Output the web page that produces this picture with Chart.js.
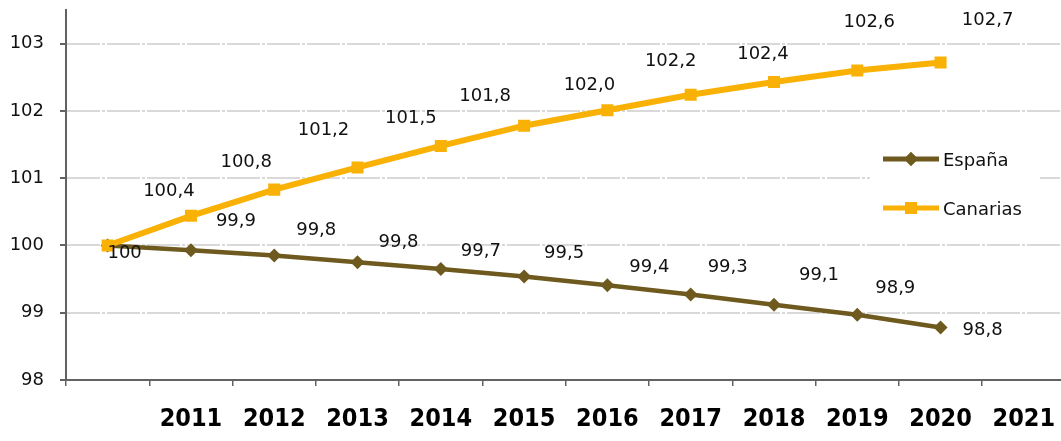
<!DOCTYPE html>
<html><head><meta charset="utf-8">
<script src="https://cdn.jsdelivr.net/npm/chart.js@4.4.1/dist/chart.umd.min.js"></script>
<style>
html,body{margin:0;padding:0;overflow:hidden;background:#fff}
#wrap{width:1074px;height:441px;position:relative}
canvas{display:block}
</style>
</head><body><div id="wrap"><canvas id="c" width="1074" height="441"></canvas></div>
<script>
// ---- data ----
const categories = ['', '2011', '2012', '2013', '2014', '2015', '2016', '2017', '2018', '2019', '2020', '2021'];
const espana   = [100, 99.93, 99.85, 99.75, 99.65, 99.54, 99.41, 99.27, 99.12, 98.97, 98.78];
const canarias = [100, 100.44, 100.83, 101.16, 101.48, 101.78, 102.01, 102.24, 102.43, 102.6, 102.72];
const espanaLabels   = ['100', '99,9', '99,8', '99,8', '99,7', '99,5', '99,4', '99,3', '99,1', '98,9', '98,8'];
const canariasLabels = ['', '100,4', '100,8', '101,2', '101,5', '101,8', '102,0', '102,2', '102,4', '102,6', '102,7'];
const yTicks = [98, 99, 100, 101, 102, 103];
const seriesNames = ['España', 'Canarias'];

// ---- style ----
const colEsp = '#6E5A1E';
const colCan = '#F9B105';
const axisCol = '#626262';
const gridCol = '#d9d9d9';
const txtFont = "18px 'DejaVu Sans', Verdana, sans-serif";
// label offsets (px, relative to each point)
const espOffsets = [[17,8],[45,-29],[42,-25],[41,-20],[40,-18],[40,-23],[42,-18],[37,-27],[45,-29],[38,-26],[42,3]];
const canOffsets = [[0,0],[-22,-25],[-28,-27],[-34,-37],[-30,-28],[-39,-29],[-18,-25],[-20,-33],[-11,-28],[12,-48],[47,-42]];

const labelsPlugin = {
  id: 'valLabels',
  afterDatasetsDraw(chart) {
    const ctx = chart.ctx;
    const x = chart.scales.x, y = chart.scales.y;
    ctx.save();
    ctx.font = txtFont;
    ctx.fillStyle = '#111';
    ctx.textAlign = 'center';
    ctx.textBaseline = 'middle';
    const draw = (vals, labs, offs) => {
      vals.forEach((v, i) => {
        if (!labs[i]) return;
        const px = x.getPixelForValue(i), py = y.getPixelForValue(v);
        ctx.fillText(labs[i], px + offs[i][0], py + offs[i][1]);
      });
    };
    draw(canarias, canariasLabels, canOffsets);
    draw(espana, espanaLabels, espOffsets);

    // legend
    const lx = 870, ly = 140;
    ctx.fillStyle = '#fff';
    ctx.fillRect(lx, ly, 170, 90);
    const rows = [
      {name: seriesNames[0], col: colEsp, y: 159, style: 'rectRot', r: 7, w: 5},
      {name: seriesNames[1], col: colCan, y: 208, style: 'rect', r: 8.5, w: 5}
    ];
    rows.forEach(r => {
      ctx.strokeStyle = r.col; ctx.lineWidth = r.w;
      ctx.beginPath(); ctx.moveTo(883, r.y); ctx.lineTo(939, r.y); ctx.stroke();
      ctx.fillStyle = r.col;
      Chart.helpers.drawPoint(ctx, {pointStyle: r.style, radius: r.r, borderWidth: 0}, 911, r.y);
      ctx.fill();
      ctx.fillStyle = '#111';
      ctx.textAlign = 'left';
      ctx.fillText(r.name, 943, r.y + 2);
    });
    ctx.restore();
  }
};

new Chart(document.getElementById('c'), {
  type: 'line',
  data: {
    labels: categories,
    datasets: [
      { label: seriesNames[1], data: canarias, borderColor: colCan, backgroundColor: colCan,
        borderWidth: 6, pointStyle: 'rect', pointRadius: 8.5, pointBorderWidth: 0, tension: 0, order: 0 },
      { label: seriesNames[0], data: espana, borderColor: colEsp, backgroundColor: colEsp,
        borderWidth: 4.5, pointStyle: 'rectRot', pointRadius: 7, pointBorderWidth: 0, tension: 0, order: 1 }
    ]
  },
  options: {
    responsive: false, maintainAspectRatio: false, animation: false,
    devicePixelRatio: 1,
    layout: { padding: { top: 10, right: 3, left: 0, bottom: 0 } },
    plugins: { legend: { display: false }, tooltip: { enabled: false } },
    scales: {
      x: {
        type: 'category', offset: true,
        grid: { display: true, offset: true, drawOnChartArea: false, drawTicks: true, tickLength: 6, color: axisCol, lineWidth: 1.5 },
        border: { display: true, color: axisCol, width: 2 },
        ticks: { color: '#000', padding: 18, maxRotation: 0, autoSkip: false,
          font: { family: "'Liberation Sans Narrow', 'DejaVu Sans Condensed', sans-serif", size: 25, weight: 'bold' } },
        afterFit(s) { s.height = 61; s.paddingLeft = 0; s.paddingRight = 0; }
      },
      y: {
        min: 98, max: 103.5,
        afterBuildTicks(s) { s.ticks = yTicks.map(v => ({ value: v })); },
        grid: { display: true, drawTicks: true, tickLength: 6, lineWidth: 2,
          color: (c) => (c.tick && c.tick.value === 98) ? 'rgba(0,0,0,0)' : gridCol,
          tickColor: axisCol },
        border: { display: true, color: axisCol, width: 2, dash: [33, 2, 3, 2] },
        ticks: { color: '#111', padding: 16, font: { family: "'DejaVu Sans', Verdana, sans-serif", size: 18 } },
        afterFit(s) { s.width = 66; s.paddingTop = 0; s.paddingBottom = 0; }
      }
    }
  },
  plugins: [labelsPlugin]
});
</script>
</body></html>
